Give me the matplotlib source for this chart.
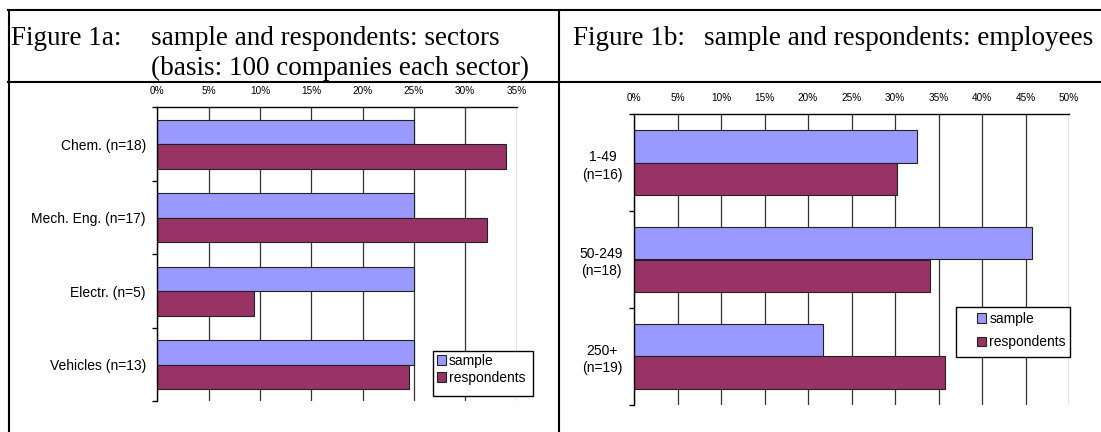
import matplotlib
matplotlib.use("Agg")
import matplotlib.pyplot as plt
from matplotlib.lines import Line2D
from matplotlib.patches import Patch, Rectangle
import numpy as np

# data (shares in %)
sectors = ["Chem. (n=18)", "Mech. Eng. (n=17)", "Electr. (n=5)", "Vehicles (n=13)"]
sector_sample = [25.0, 25.0, 25.0, 25.0]
sector_resp = [34.0, 32.1, 9.4, 24.5]

sizes = ["1-49\n(n=16)", "50-249\n(n=18)", "250+\n(n=19)"]
size_sample = [32.5, 45.75, 21.75]
size_resp = [30.2, 34.0, 35.8]

legend_labels = ["sample", "respondents"]
c_sample = "#9999FF"
c_resp = "#993366"

plt.rcParams['font.family'] = ['Liberation Sans', 'DejaVu Sans']

W, H = 1101, 432
fig = plt.figure(figsize=(W / 100, H / 100), dpi=100)

def fx(px):
    return px / W

def fy(py):
    return 1 - py / H

#### frame lines ####
lw_frame = 1.5
fig.add_artist(Line2D([fx(8), 1], [fy(10), fy(10)], color="black", lw=lw_frame))
fig.add_artist(Line2D([fx(8), 1], [fy(81.5), fy(81.5)], color="black", lw=lw_frame))
fig.add_artist(Line2D([fx(8.5), fx(8.5)], [fy(10), 0], color="black", lw=lw_frame))
fig.add_artist(Line2D([fx(558.5), fx(558.5)], [fy(10), 0], color="black", lw=lw_frame))

#### titles ####
tkw = dict(family="Liberation Serif", fontsize=19.5, va="baseline", ha="left")
fig.text(fx(11), fy(45), "Figure 1a:", **tkw)
fig.text(fx(151), fy(45), "sample and respondents: sectors", **tkw)
fig.text(fx(151), fy(75), "(basis: 100 companies each sector)", **tkw)
fig.text(fx(573), fy(45), "Figure 1b:", **tkw)
fig.text(fx(704), fy(45), "sample and respondents: employees", **tkw)


def draw_panel(rect, cats, s_vals, r_vals, xmax, multiline):
    ax = fig.add_axes(rect)
    n = len(cats)
    centers = np.arange(n) + 0.5
    h = 1 / 3
    ax.barh(centers - h / 2, s_vals, height=h, color=c_sample, edgecolor="#222222", lw=0.8)
    ax.barh(centers + h / 2, r_vals, height=h, color=c_resp, edgecolor="#222222", lw=0.8)
    ax.set_xlim(0, xmax)
    ax.set_ylim(n, 0)
    ax.set_xticks(np.arange(0, xmax + 0.1, 5))
    ax.set_xticklabels([f"{int(v)}%" for v in np.arange(0, xmax + 0.1, 5)])
    ax.xaxis.tick_top()
    ax.tick_params(axis="x", length=0, pad=8, labelsize=7.2)
    ax.set_yticks(centers)
    ax.set_yticklabels(cats, fontsize=10)
    if multiline:
        for t in ax.get_yticklabels():
            t.set_multialignment("center")
            t.set_linespacing(1.3)
    ax.tick_params(axis="y", which="major", length=0, pad=8.2)
    ax.set_yticks(np.arange(n + 1), minor=True)
    ax.tick_params(axis="y", which="minor", length=3.6, width=1, direction="out", color="black")
    ax.grid(axis="x", color="#333333", lw=0.9)
    ax.set_axisbelow(True)
    ax.spines["right"].set_visible(False)
    ax.spines["bottom"].set_visible(False)
    ax.spines["left"].set_linewidth(1)
    ax.spines["top"].set_linewidth(1)
    return ax


draw_panel([fx(157.3), fy(401.3), fx(516.5) - fx(157.3), fy(107.3) - fy(401.3)],
           sectors, sector_sample, sector_resp, 35, False)
draw_panel([fx(634), fy(404.7), fx(1069) - fx(634), fy(114.3) - fy(404.7)],
           sizes, size_sample, size_resp, 50, True)

#### legends ####
handles = [Patch(facecolor=c_sample, edgecolor="#222222", lw=0.8),
           Patch(facecolor=c_resp, edgecolor="#222222", lw=0.8)]


def add_legend(box, anchor, spacing):
    x0, y0, x1, y1 = box
    fig.add_artist(Rectangle((fx(x0), fy(y1)), fx(x1) - fx(x0), fy(y0) - fy(y1),
                             transform=fig.transFigure, facecolor="white",
                             edgecolor="black", lw=1, zorder=5))
    leg = fig.legend(handles, legend_labels, loc="upper left",
                     bbox_to_anchor=(fx(anchor[0]), fy(anchor[1])),
                     frameon=False, fontsize=10, borderpad=0, borderaxespad=0,
                     handlelength=0.65, handleheight=0.65, handletextpad=0.25,
                     labelspacing=spacing)
    leg.set_zorder(6)


add_legend((433, 351, 533, 396), (436.5, 354), 0.2)
add_legend((956, 306.7, 1070, 357.3), (977, 312), 0.65)

fig.savefig("out.png", dpi=100)
